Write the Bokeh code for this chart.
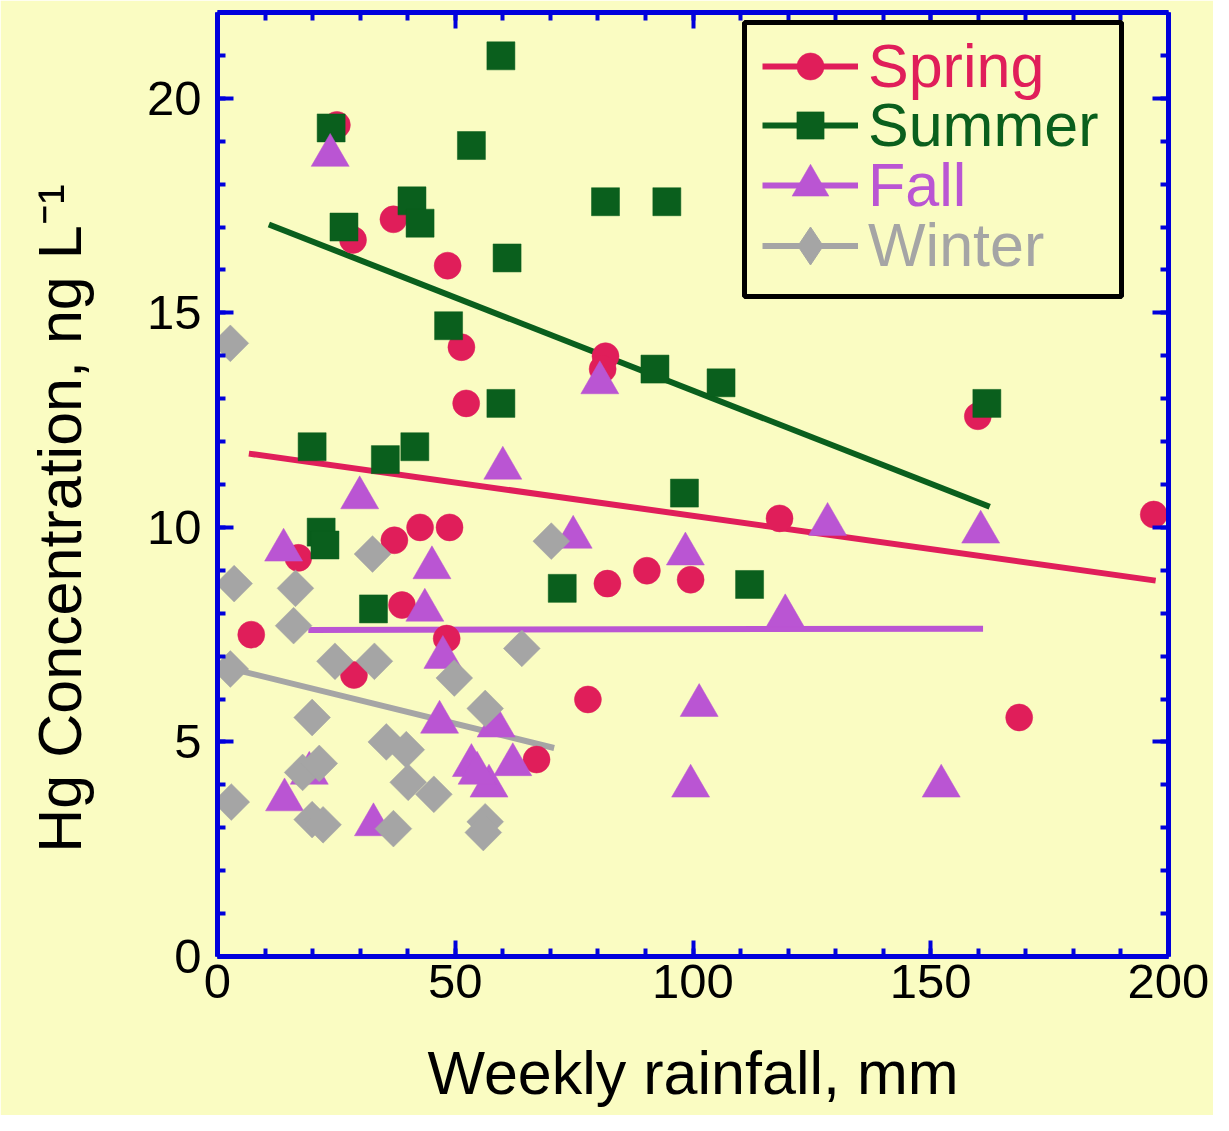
from bokeh.plotting import figure
from bokeh.models import (Range1d, LinearAxis, FixedTicker, Legend, LegendItem, BoxAnnotation,
                          CustomLabelingPolicy)
from bokeh.embed import file_html
from bokeh.resources import INLINE
import numpy as np

# ---------------- data ----------------
spring_x = [25.1, 28.5, 37.0, 48.4, 51.3, 52.3, 81.6, 81.0, 159.9, 118.2, 196.9, 42.6, 48.8,
            37.2, 17.0, 38.8, 7.1, 48.2, 28.7, 90.3, 82.0, 99.5, 77.9, 168.6, 67.1]
spring_y = [19.38, 16.70, 17.18, 16.10, 14.20, 12.89, 13.99, 13.69, 12.59, 10.21, 10.30, 10.0, 10.0,
            9.70, 9.29, 8.19, 7.50, 7.41, 6.56, 8.99, 8.69, 8.78, 5.99, 5.57, 4.59]

summer_x = [59.6, 53.4, 23.9, 40.9, 42.6, 26.6, 81.6, 94.5, 60.9, 48.6, 92.0, 105.9, 59.6, 161.8,
            19.9, 35.3, 41.5, 98.2, 21.8, 22.6, 32.8, 72.5, 111.9]
summer_y = [20.99, 18.90, 19.31, 17.61, 17.09, 17.0, 17.59, 17.59, 16.28, 14.70, 13.69, 13.37, 12.89, 12.89,
            11.88, 11.58, 11.88, 10.80, 9.89, 9.59, 8.10, 8.58, 8.67]

fall_x = [23.7, 60.0, 29.9, 13.9, 45.1, 43.6, 74.8, 47.4, 80.4, 128.3, 160.5, 98.4, 119.4, 101.3,
          99.5, 152.2, 46.7, 58.6, 53.4, 62.1, 57.1, 54.6, 14.1, 32.8, 19.3]
fall_y = [18.67, 11.38, 10.69, 9.47, 9.06, 8.07, 9.77, 6.97, 13.37, 10.07, 9.89, 9.38, 7.94, 5.85,
          3.97, 3.97, 5.46, 5.37, 4.45, 4.47, 3.97, 4.27, 3.65, 3.07, 4.27]

winter_x = [2.7, 3.5, 16.4, 16.0, 32.6, 70.2, 64.0, 2.7, 24.7, 33.0, 49.8, 56.3, 19.9, 35.5, 39.7,
            17.9, 21.4, 40.1, 45.5, 2.9, 19.9, 22.2, 37.0, 56.3, 55.9]
winter_y = [14.29, 8.69, 8.58, 7.71, 9.38, 9.68, 7.18, 6.70, 6.88, 6.88, 6.49, 5.78, 5.57, 5.0, 4.82,
            4.29, 4.50, 4.06, 3.78, 3.60, 3.19, 3.07, 2.98, 3.14, 2.89]

# regression lines (end points)
spring_fit_x = [6.6, 197.3]
spring_fit_y = [11.72, 8.76]
summer_fit_x = [10.8, 162.4]
summer_fit_y = [17.06, 10.48]
fall_fit_x = [19.1, 161.0]
fall_fit_y = [7.61, 7.64]
winter_fit_x = [1.7, 70.8]
winter_fit_y = [6.74, 4.86]

x_major = [0, 50, 100, 150, 200]
x_minor = list(range(0, 201, 10))
y_major = [0, 5, 10, 15, 20]
y_minor = list(range(0, 23))

# ---------------- style ----------------
BG = "#FAFCC2"
AX = "#0000DC"
FONT = "Liberation Sans"
C_SPRING = "#E01E5A"
C_SUMMER = "#0A5F1D"
C_FALL = "#BA55D3"
C_WINTER = "#A5A5A5"

W, H = 1213, 1115
FL, FT, FR, FB = 217, 12, 1168, 956   # frame edges in canvas pixels

p = figure(width=W, height=H, output_backend="svg", toolbar_location=None,
           x_range=Range1d(0, 200), y_range=Range1d(0, 22),
           min_border_left=FL, min_border_right=W - FR, min_border_top=FT, min_border_bottom=H - FB)
p.background_fill_color = BG
p.border_fill_color = BG
p.outline_line_color = None
p.grid.visible = False


def style_axis(ax, ticks, minor, labels=True):
    ax.ticker = FixedTicker(ticks=ticks, minor_ticks=minor)
    ax.axis_line_color = AX
    ax.axis_line_width = 5
    ax.major_tick_line_color = AX
    ax.major_tick_line_width = 4
    ax.minor_tick_line_color = AX
    ax.minor_tick_line_width = 4
    ax.major_tick_in = 16
    ax.major_tick_out = 0
    ax.minor_tick_in = 8
    ax.minor_tick_out = 0
    ax.major_label_text_font = FONT
    ax.major_label_text_color = "black"
    if labels:
        ax.major_label_text_font_size = "49px"
    else:
        ax.major_label_text_font_size = "1px"
        ax.major_label_standoff = 0
        ax.major_label_policy = CustomLabelingPolicy(code="return new Set()")


xa = p.xaxis[0]
ya = p.yaxis[0]
style_axis(xa, x_major, x_minor)
style_axis(ya, y_major, y_minor)
xa.major_label_standoff = 8
ya.major_label_standoff = 16

xa.axis_label = "Weekly rainfall, mm"
ya.axis_label = "Hg Concentration, ng L\u207b\u00b9" + "\u00a0" * 4
for ax in (xa, ya):
    ax.axis_label_text_font = FONT
    ax.axis_label_text_font_size = "61px"
    ax.axis_label_text_font_style = "normal"
    ax.axis_label_text_color = "black"
xa.axis_label_standoff = 38
ya.axis_label_standoff = 50

top = LinearAxis()
right = LinearAxis()
style_axis(top, x_major, x_minor, labels=False)
style_axis(right, y_major, y_minor, labels=False)
p.add_layout(top, "above")
p.add_layout(right, "right")

# ---------------- glyphs ----------------
lines = {}
lines["Spring"] = p.line(spring_fit_x, spring_fit_y, line_color=C_SPRING, line_width=6)
lines["Summer"] = p.line(summer_fit_x, summer_fit_y, line_color=C_SUMMER, line_width=6)
lines["Fall"] = p.line(fall_fit_x, fall_fit_y, line_color=C_FALL, line_width=6)
lines["Winter"] = p.line(winter_fit_x, winter_fit_y, line_color=C_WINTER, line_width=6)

pts = {}
pts["Spring"] = p.scatter(spring_x, spring_y, marker="circle", size=27,
                          fill_color=C_SPRING, line_color=C_SPRING, line_width=0.5)
pts["Summer"] = p.scatter(summer_x, summer_y, marker="square", size=28,
                          fill_color=C_SUMMER, line_color=C_SUMMER, line_width=0.5)
pts["Fall"] = p.scatter(fall_x, fall_y, marker="triangle", size=38,
                        fill_color=C_FALL, line_color=C_FALL, line_width=0.5)
pts["Winter"] = p.scatter(winter_x, winter_y, marker="square", size=26, angle=np.pi / 4,
                          fill_color=C_WINTER, line_color=C_WINTER, line_width=0.5)

# legend-only symbol for winter (legend glyphs ignore marker angle); hidden in the plot
winter_key = p.scatter(winter_x, winter_y, marker="diamond", fill_color=C_WINTER,
                       line_color=C_WINTER, visible=False)

# ---------------- legend ----------------
box = BoxAnnotation(left=527, right=904, top=934, bottom=660,
                    left_units="screen", right_units="screen", top_units="screen", bottom_units="screen",
                    fill_color=BG, fill_alpha=1.0, line_color="black", line_alpha=1.0, line_width=5,
                    level="annotation")
p.add_layout(box)

entries = [("Spring", C_SPRING, 68, [lines["Spring"], pts["Spring"]]),
           ("Summer", C_SUMMER, 68, [lines["Summer"], pts["Summer"]]),
           ("Fall", C_FALL, 92, [lines["Fall"], pts["Fall"]]),
           ("Winter", C_WINTER, 95, [lines["Winter"], winter_key])]
row_centers = [67, 126, 185, 245]
for (name, col, gh, rends), center in zip(entries, row_centers):
    hh = max(gh, 68)
    yb = FB - (center + hh / 2)
    leg = Legend(items=[LegendItem(label=name, renderers=rends)],
                 location=(545, yb), glyph_width=96, glyph_height=gh, label_standoff=10,
                 padding=0, margin=0, spacing=0, border_line_color=None,
                 background_fill_alpha=0, label_text_font=FONT, label_text_font_size="61px",
                 label_text_color=col, click_policy="none")
    p.add_layout(leg)

open("out.html", "w").write(file_html(p, INLINE))
